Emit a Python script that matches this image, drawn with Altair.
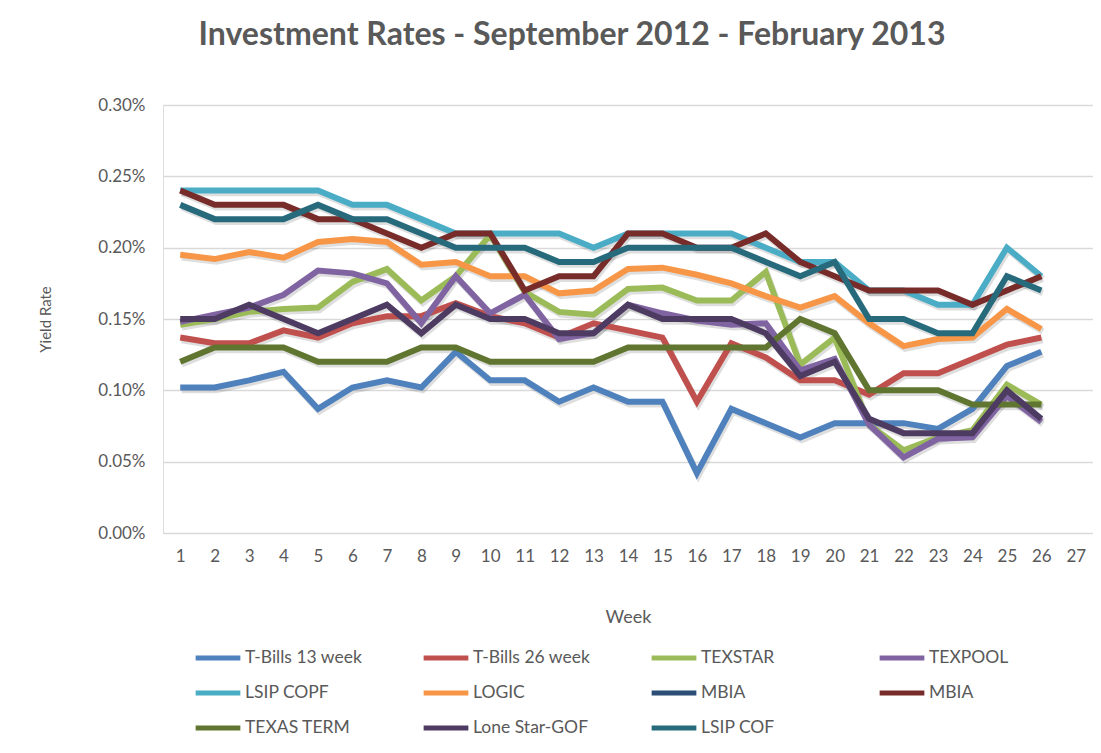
import altair as alt
import pandas as pd

weeks = list(range(1, 27))

series_names = ["T-Bills 13 week", "T-Bills 26 week", "TEXSTAR", "TEXPOOL",
                "LSIP COPF", "LOGIC", "MBIA", "MBIA ",
                "TEXAS TERM", "Lone Star-GOF", "LSIP COF"]
series_colors = ["#4F81BD", "#C0504D", "#9BBB59", "#8064A2",
                 "#4BACC6", "#F79646", "#2C4D75", "#772C2A",
                 "#5F7530", "#4D3B62", "#276A7C"]

# values in percent
tbills13 = [0.102, 0.102, 0.107, 0.113, 0.087, 0.102, 0.107, 0.102, 0.127, 0.107, 0.107, 0.092, 0.102,
            0.092, 0.092, 0.042, 0.087, 0.077, 0.067, 0.077, 0.077, 0.077, 0.073, 0.087, 0.117, 0.127]
tbills26 = [0.137, 0.133, 0.133, 0.142, 0.137, 0.147, 0.152, 0.152, 0.161, 0.152, 0.147, 0.137, 0.147,
            0.142, 0.137, 0.092, 0.133, 0.123, 0.107, 0.107, 0.097, 0.112, 0.112, 0.122, 0.132, 0.137]
texstar = [0.146, 0.150, 0.155, 0.157, 0.158, 0.176, 0.185, 0.163, 0.180, 0.209, 0.169, 0.155, 0.153,
           0.171, 0.172, 0.163, 0.163, 0.183, 0.118, 0.137, 0.076, 0.058, 0.067, 0.072, 0.104, 0.090]
texpool = [0.148, 0.153, 0.158, 0.167, 0.184, 0.182, 0.175, 0.147, 0.180, 0.154, 0.167, 0.136, 0.140,
           0.160, 0.154, 0.149, 0.146, 0.147, 0.114, 0.122, 0.076, 0.053, 0.066, 0.067, 0.096, 0.078]
lsip_copf = [0.240, 0.240, 0.240, 0.240, 0.240, 0.230, 0.230, 0.220, 0.210, 0.210, 0.210, 0.210, 0.200,
             0.210, 0.210, 0.210, 0.210, 0.200, 0.190, 0.190, 0.170, 0.170, 0.160, 0.160, 0.200, 0.180]
logic = [0.195, 0.192, 0.197, 0.193, 0.204, 0.206, 0.204, 0.188, 0.190, 0.180, 0.180, 0.168, 0.170,
         0.185, 0.186, 0.181, 0.175, 0.166, 0.158, 0.166, 0.147, 0.131, 0.136, 0.137, 0.157, 0.143]
mbia_blue = []
mbia_red = [0.240, 0.230, 0.230, 0.230, 0.220, 0.220, 0.210, 0.200, 0.210, 0.210, 0.170, 0.180, 0.180,
            0.210, 0.210, 0.200, 0.200, 0.210, 0.190, 0.180, 0.170, 0.170, 0.170, 0.160, 0.170, 0.180]
texas_term = [0.120, 0.130, 0.130, 0.130, 0.120, 0.120, 0.120, 0.130, 0.130, 0.120, 0.120, 0.120, 0.120,
              0.130, 0.130, 0.130, 0.130, 0.130, 0.150, 0.140, 0.100, 0.100, 0.100, 0.090, 0.090, 0.090]
lone_star = [0.150, 0.150, 0.160, 0.150, 0.140, 0.150, 0.160, 0.140, 0.160, 0.150, 0.150, 0.140, 0.140,
             0.160, 0.150, 0.150, 0.150, 0.140, 0.110, 0.120, 0.080, 0.070, 0.070, 0.070, 0.100, 0.080]
lsip_cof = [0.230, 0.220, 0.220, 0.220, 0.230, 0.220, 0.220, 0.210, 0.200, 0.200, 0.200, 0.190, 0.190,
            0.200, 0.200, 0.200, 0.200, 0.190, 0.180, 0.190, 0.150, 0.150, 0.140, 0.140, 0.180, 0.170]

all_values = [tbills13, tbills26, texstar, texpool, lsip_copf, logic, mbia_blue, mbia_red,
              texas_term, lone_star, lsip_cof]

rows = []
for order, (name, vals) in enumerate(zip(series_names, all_values)):
    for w, v in zip(weeks, vals):
        rows.append({"Series": name, "Week": w, "Rate": v, "order": order})
df = pd.DataFrame(rows)

FONT = "Lato"
GREY = "#595959"

x = alt.X("Week:Q",
          scale=alt.Scale(domain=[0.5, 27.5], nice=False, zero=False),
          axis=alt.Axis(values=list(range(1, 28)), format="d", grid=False, ticks=False,
                        domain=False, labelPadding=15, labelFontSize=17, labelColor=GREY,
                        labelFont=FONT, title="Week", titleFont=FONT, titleFontSize=18,
                        titleFontWeight="normal", titleColor=GREY, titleY=84,
                        titleBaseline="middle", labelFlush=False))
y = alt.Y("Rate:Q",
          scale=alt.Scale(domain=[0, 0.30], nice=False),
          axis=alt.Axis(values=[0, 0.05, 0.10, 0.15, 0.20, 0.25, 0.30],
                        labelExpr="format(datum.value, '.2f') + '%'",
                        grid=True, gridColor="#d9d9d9", gridWidth=1.3, ticks=False, domain=False,
                        labelPadding=18, labelFontSize=17, labelColor=GREY, labelFont=FONT,
                        title="Yield Rate", titleFont=FONT, titleFontSize=15,
                        titleFontWeight="normal", titleColor=GREY, titleX=-118, titleY=214,
                        titleAngle=270, titleAlign="center", titleBaseline="middle"))

color = alt.Color("Series:N",
                  scale=alt.Scale(domain=series_names, range=series_colors),
                  sort=series_names,
                  legend=alt.Legend(title=None, orient="none", legendX=30, legendY=528,
                                    direction="horizontal",
                                    columns=4, gridAlign="all", columnPadding=50, rowPadding=-11,
                                    symbolType="stroke", symbolSize=2000, symbolStrokeWidth=5,
                                    labelFont=FONT, labelFontSize=17.5, labelColor=GREY,
                                    labelOffset=2, labelLimit=300, symbolOffset=0))

shadow = alt.Chart(df).mark_line(strokeWidth=6.5, color="#000000", opacity=0.13,
                                 xOffset=1.5, yOffset=2.5, strokeJoin="miter").encode(
    x=x, y=y, detail="Series:N", order="Week:Q")

lines = alt.Chart(df).mark_line(strokeWidth=6, strokeJoin="miter").encode(
    x=x, y=y, color=color, order="Week:Q")

chart = alt.layer(shadow, lines).properties(
    width=930, height=428,
    autosize=alt.AutoSizeParams(type="none"),
    padding={"left": 155, "top": 97, "right": 0, "bottom": 205},
    title=alt.TitleParams("Investment Rates - September 2012 - February 2013",
                          font=FONT, fontSize=32, fontWeight="bold", color=GREY,
                          anchor="middle", dx=-56, offset=44)
).configure_view(stroke=None).configure(background="white")

chart.save("out.html", embed_options={"renderer": "svg", "actions": False})
